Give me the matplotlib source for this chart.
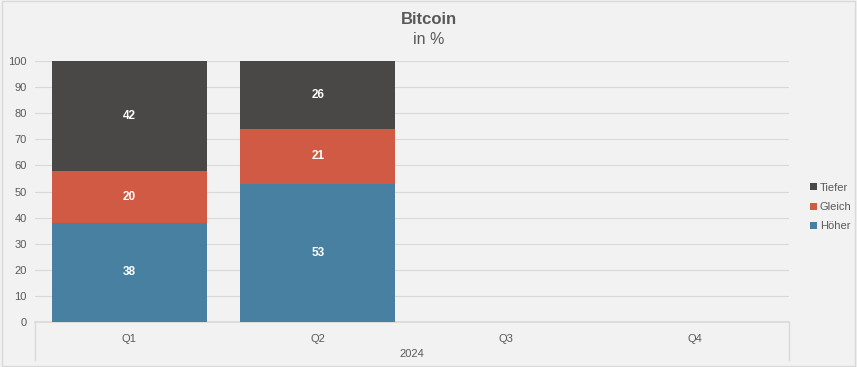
import matplotlib.pyplot as plt
from matplotlib.patches import Rectangle
from matplotlib.lines import Line2D

quarters = ["Q1", "Q2", "Q3", "Q4"]
year = "2024"
hoeher = [38, 53, 0, 0]
gleich = [20, 21, 0, 0]
tiefer = [42, 26, 0, 0]
has_data = [True, True, False, False]

c_hoeher = "#4780a0"
c_gleich = "#d05a43"
c_tiefer = "#4a4846"
bg = "#f2f2f2"
txt = "#595959"

plt.rcParams['font.family'] = ['Liberation Sans', 'DejaVu Sans']

fig = plt.figure(figsize=(8.57, 3.67), dpi=100, facecolor=bg)
fig.patches.append(Rectangle((0.002, 0.004), 0.996, 0.992, transform=fig.transFigure,
                             fill=False, edgecolor="#d9d9d9", linewidth=1))

ax = fig.add_axes([35 / 857, 45 / 367, (789 - 35) / 857, (322 - 61) / 367])
ax.set_facecolor(bg)

x = list(range(len(quarters)))
w = 0.82
series = [("Höher", hoeher, c_hoeher), ("Gleich", gleich, c_gleich), ("Tiefer", tiefer, c_tiefer)]
bottom = [0] * len(quarters)
handles = []
for name, vals, col in series:
    bars = ax.bar(x, vals, w, bottom=bottom, color=col, label=name, zorder=3)
    for i, v in enumerate(vals):
        if has_data[i] and v > 0:
            ax.text(x[i], bottom[i] + v / 2, str(v), ha="center", va="center",
                    color="white", fontsize=8.5, fontweight="bold", zorder=4)
    bottom = [b + v for b, v in zip(bottom, vals)]
    handles.append(bars)

ax.set_xlim(-0.5, 3.5)
ax.set_ylim(0, 100)
ax.set_yticks(range(0, 101, 10))
ax.tick_params(axis="y", length=0, labelsize=8, labelcolor=txt, pad=6)
ax.yaxis.grid(True, color="#d9d9d9", linewidth=0.8, zorder=0)
for s in ["top", "right", "left"]:
    ax.spines[s].set_visible(False)
ax.spines["bottom"].set_color("#d9d9d9")
ax.spines["bottom"].set_linewidth(1.2)
ax.set_xticks(x)
ax.set_xticklabels(quarters)
ax.tick_params(axis="x", length=0, labelsize=8, labelcolor=txt, pad=9)

# year group label with separators
for xx in [35, 789]:
    fig.add_artist(Line2D([xx / 857, xx / 857], [1 - 322 / 367, 1 - 360 / 367],
                          transform=fig.transFigure, color="#d9d9d9", linewidth=1))
fig.text((35 + 789) / 2 / 857, 1 - 354 / 367, year, ha="center", va="center",
         fontsize=8, color=txt)

fig.text(0.5, 1 - 20 / 367, "Bitcoin", ha="center", va="center",
         fontsize=12, fontweight="bold", color=txt)
fig.text(0.5, 1 - 40 / 367, "in %", ha="center", va="center",
         fontsize=11.5, color=txt)

leg = fig.legend(handles[::-1], [s[0] for s in series][::-1], loc="center left",
                 bbox_to_anchor=(800 / 857, 1 - 207 / 367), frameon=False,
                 fontsize=8, handlelength=0.6, handleheight=0.6,
                 handletextpad=0.3, labelspacing=0.85)
for t in leg.get_texts():
    t.set_color(txt)

fig.savefig("out.png", dpi=100, facecolor=bg)
